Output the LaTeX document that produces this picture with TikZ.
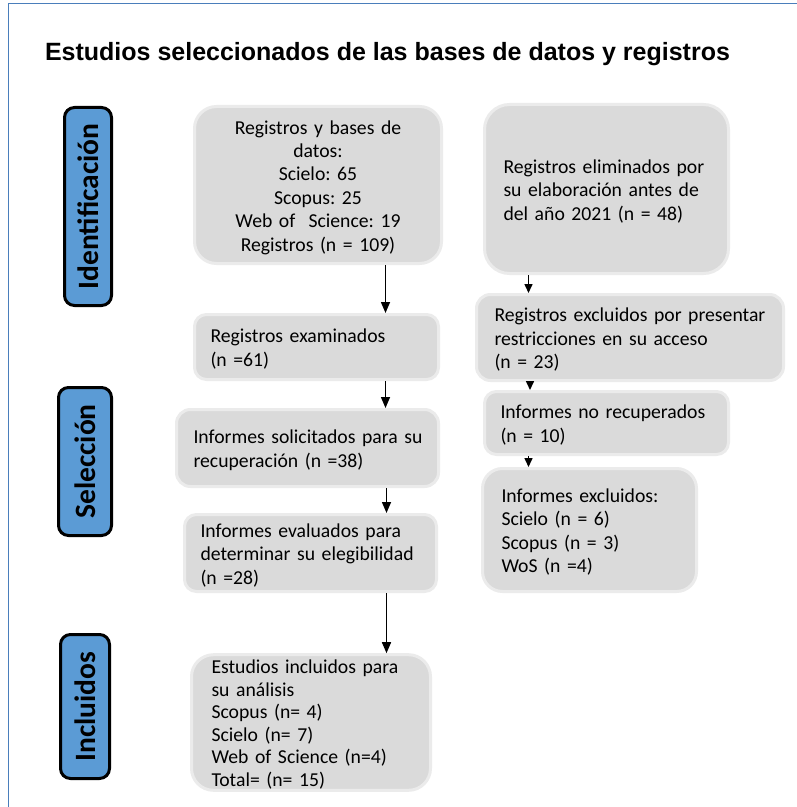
\documentclass[tikz,border=0pt]{standalone}
\usepackage{fontspec}
\setmainfont{Carlito}
\newfontfamily\titlefont{Liberation Sans}
\usetikzlibrary{arrows.meta}
\frenchspacing
\definecolor{frameblue}{HTML}{4A7EBB}
\definecolor{sidefill}{HTML}{5B9BD5}
\definecolor{boxfill}{HTML}{DADADA}
\definecolor{boxline}{HTML}{EBEBEB}
\newcommand\leftlines[1]{\raisebox{-3bp}[\height][\depth]{\begin{tabular}{@{}l@{}}#1\end{tabular}}}
\newcommand\midlines[1]{\raisebox{-3bp}[\height][\depth]{\begin{tabular}{@{}c@{}}#1\end{tabular}}}
\tikzset{
  greybox/.style={draw=boxline, fill=boxfill, line width=3bp, inner ysep=0pt,
    font=\fontsize{19.7bp}{23.4bp}\selectfont, align=left},
  sidebox/.style={draw=black, fill=sidefill, line width=3bp, rounded corners=10bp,
    rotate=90, inner sep=0pt, font=\fontsize{29.5bp}{34bp}\selectfont\bfseries},
  arr/.style={-{Triangle[width=9bp,length=11bp]}, line width=1.5bp},
  sarr/.style={-{Triangle[width=8bp,length=9bp]}, line width=1.5bp},
}
\begin{document}
\begin{tikzpicture}[x=1bp,y=-1bp]
\useasboundingbox (0,0) rectangle (797,807);
\fill[white] (0,0) rectangle (797,807);
% frame
\draw[frameblue, line width=1.6bp] (8.5,807) -- (8.5,3.5) -- (797,3.5);
% title
\node[anchor=base, font=\titlefont\bfseries\fontsize{25bp}{30bp}\selectfont] (title) at (387.5,61) {Estudios seleccionados de las bases de datos y registros};
% side labels
\node[sidebox, minimum width=198bp, minimum height=47bp] (sid) at (88,206.5) {Identificación};
\node[sidebox, minimum width=148bp, minimum height=53bp] (ssel) at (85,461.5) {Selección};
\node[sidebox, minimum width=144bp, minimum height=49bp] (sinc) at (85,706.5) {Incluidos};
% grey boxes
\node[greybox, rounded corners=22bp, align=center, text width=230bp, inner xsep=8.5bp, minimum height=157bp] (b1) at (318,185)
  {\midlines{Registros y bases de\\ datos:\\ Scielo: 65\\ Scopus: 25\\ Web of\ \ Science: 19\\ Registros (n = 109)}};
\node[greybox, rounded corners=25bp, text width=206bp, inner xsep=19bp, minimum height=169bp] (b2) at (606.5,189)
  {\leftlines{Registros eliminados por\\ su elaboración antes de\\ del año 2021 (n = 48)}};
\node[greybox, rounded corners=14bp, text width=271bp, inner xsep=18bp, minimum height=86bp] (b3) at (630,337.5)
  {\leftlines{Registros excluidos por presentar\\ restricciones en su acceso\\ (n = 23)}};
\node[greybox, rounded corners=12bp, text width=212bp, inner xsep=16bp, minimum height=65bp] (b4) at (316.5,347)
  {\leftlines{Registros examinados\\ (n =61)}};
\node[greybox, rounded corners=14bp, text width=228bp, inner xsep=17bp, minimum height=77bp] (b5) at (307.5,448)
  {\leftlines{Informes solicitados para su\\ recuperación (n =38)}};
\node[greybox, rounded corners=12bp, text width=220bp, inner xsep=16bp, minimum height=77bp] (b6) at (310.5,553)
  {\leftlines{Informes evaluados para\\ determinar su elegibilidad\\ (n =28)}};
\node[greybox, rounded corners=12bp, text width=212bp, inner xsep=16bp, minimum height=63bp] (b7) at (606.5,423)
  {\leftlines{Informes no recuperados\\ (n = 10)}};
\node[greybox, rounded corners=20bp, text width=176bp, inner xsep=19bp, minimum height=123bp] (b8) at (589.5,530)
  {\leftlines{Informes excluidos:\\ Scielo (n = 6)\\ Scopus (n = 3)\\ WoS (n =4)}};
\node[greybox, rounded corners=22bp, text width=199bp, inner xsep=20bp, minimum height=135bp,
  font=\fontsize{19.7bp}{22.6bp}\selectfont] (b9) at (311,722.5)
  {\leftlines{Estudios incluidos para\\ su análisis\\ Scopus (n= 4)\\ Scielo (n= 7)\\ Web of Science (n=4)\\ Total= (n= 15)}};
% connectors
\coordinate (ax) at (385.5,0);
\coordinate (bx) at (386.5,0);
\coordinate (rx) at (528.5,0);
\coordinate (rx2) at (530,0);
\draw[arr] (b1.south -| ax) -- (b4.north -| ax);
\draw[arr] (b4.south -| ax) -- (b5.north -| ax);
\draw[arr] (b5.south -| bx) -- (b6.north -| bx);
\draw[arr] (b6.south -| bx) -- (b9.north -| bx);
\draw[sarr] (b2.south -| rx) -- (b3.north -| rx);
\draw[sarr] (b3.south -| rx2) -- (b7.north -| rx2);
\draw[sarr] (b7.south -| rx) -- (b8.north -| rx);
\end{tikzpicture}
\end{document}
